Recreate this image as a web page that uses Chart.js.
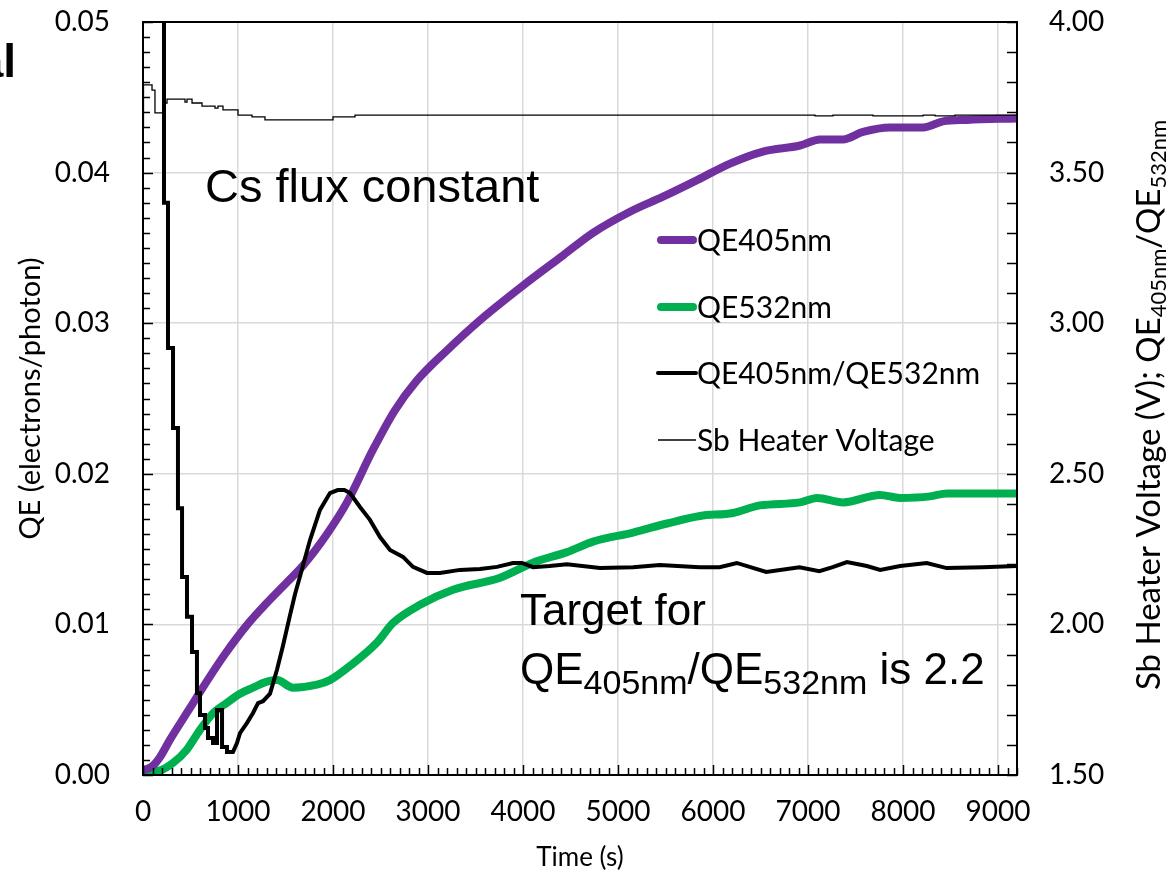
<!DOCTYPE html>
<html>
<head>
<meta charset="utf-8">
<script src="https://cdn.jsdelivr.net/npm/chart.js@4.4.0/dist/chart.umd.min.js"></script>
<style>
html,body{margin:0;padding:0;background:#ffffff;}
#wrap{width:1171px;height:875px;position:relative;}
</style>
</head>
<body>
<div id="wrap"><canvas id="c" width="1171" height="875"></canvas></div>
<script>
// ---------- data ----------
const qe405Time = [0, 100, 180, 280, 500, 680, 860, 1100, 1300, 1516, 1684, 1937, 2147, 2421, 2650, 2884, 3200, 3547, 4000, 4421, 4737, 5126, 5474, 5832, 6179, 6526, 6916, 7126, 7368, 7579, 7863, 8211, 8421, 8674, 9200];
const qe405Values = [0.0003, 0.0006, 0.0012, 0.0023, 0.0045, 0.0063, 0.0080, 0.0100, 0.0114, 0.0128, 0.0139, 0.0160, 0.0181, 0.0216, 0.0242, 0.0262, 0.0282, 0.0302, 0.0325, 0.0345, 0.0360, 0.0374, 0.0384, 0.0395, 0.0406, 0.0414, 0.0418, 0.0422, 0.0422, 0.0427, 0.0430, 0.0430, 0.0434, 0.0435, 0.0436];

const qe532Time = [0, 179, 316, 463, 600, 737, 884, 1021, 1158, 1305, 1410, 1579, 1832, 1968, 2210, 2463, 2632, 2916, 3263, 3758, 4105, 4463, 4737, 5158, 5516, 5863, 6211, 6495, 6916, 7095, 7368, 7758, 7968, 8284, 8463, 8811, 9200];
const qe532Values = [0.0002, 0.0003, 0.0008, 0.0017, 0.0030, 0.0041, 0.0048, 0.0054, 0.0058, 0.0062, 0.0063, 0.0058, 0.0060, 0.0063, 0.0074, 0.0088, 0.0101, 0.0113, 0.0123, 0.0131, 0.0141, 0.0148, 0.0155, 0.0161, 0.0167, 0.0172, 0.0174, 0.0179, 0.0181, 0.0184, 0.0181, 0.0186, 0.0184, 0.0185, 0.0187, 0.0187, 0.0187];

const ratioTime = [221, 221, 263, 263, 316, 316, 368, 368, 411, 411, 463, 463, 516, 516, 568, 568, 600, 600, 653, 653, 684, 684, 737, 737, 779, 779, 832, 832, 884, 884, 947, 989, 1021, 1095, 1158, 1211, 1263, 1337, 1411, 1474, 1547, 1600, 1653, 1758, 1863, 1968, 2050, 2120, 2179, 2284, 2389, 2495, 2600, 2737, 2842, 2989, 3126, 3337, 3547, 3726, 3895, 3990, 4105, 4280, 4463, 4810, 5158, 5440, 5860, 6070, 6250, 6560, 6910, 7120, 7260, 7410, 7620, 7760, 7970, 8250, 8460, 8840, 9200];
const ratioValues = [4.6, 3.40, 3.40, 2.918, 2.918, 2.652, 2.652, 2.386, 2.386, 2.157, 2.157, 2.025, 2.025, 1.908, 1.908, 1.772, 1.772, 1.699, 1.699, 1.656, 1.656, 1.623, 1.623, 1.606, 1.606, 1.716, 1.716, 1.593, 1.593, 1.576, 1.576, 1.606, 1.639, 1.673, 1.706, 1.739, 1.745, 1.77, 1.85, 1.93, 2.03, 2.10, 2.16, 2.28, 2.38, 2.436, 2.446, 2.446, 2.436, 2.39, 2.347, 2.29, 2.247, 2.224, 2.191, 2.171, 2.171, 2.181, 2.184, 2.191, 2.204, 2.204, 2.19, 2.194, 2.20, 2.187, 2.19, 2.197, 2.19, 2.19, 2.204, 2.174, 2.19, 2.177, 2.19, 2.207, 2.194, 2.181, 2.194, 2.204, 2.187, 2.19, 2.194];

const heaterTime = [0, 5, 95, 126, 210, 253, 442, 463, 516, 621, 758, 789, 842, 1000, 1147, 1284, 2000, 2232, 7074, 7263, 7684, 8211, 8337, 8547, 9200];
const heaterValues = [3.651, 3.791, 3.774, 3.698, 3.731, 3.744, 3.734, 3.744, 3.731, 3.721, 3.714, 3.721, 3.708, 3.691, 3.685, 3.675, 3.685, 3.691, 3.688, 3.691, 3.688, 3.691, 3.688, 3.691, 3.691];

const seriesLabels = ['QE405nm', 'QE532nm', 'QE405nm/QE532nm', 'Sb Heater Voltage'];
const xTickValues = [0, 1000, 2000, 3000, 4000, 5000, 6000, 7000, 8000, 9000];
const leftTickValues = [0, 0.01, 0.02, 0.03, 0.04, 0.05];
const rightTickValues = [1.5, 2.0, 2.5, 3.0, 3.5, 4.0];

// ---------- helpers ----------
const pairs = (xs, ys) => xs.map((x, i) => ({x: x, y: ys[i]}));
const TICK_FONT = {family: 'Lato', size: 28};
const TITLE_FONT = {family: 'Lato', size: 26};
const setTicks = vals => (s => { s.ticks = vals.map(v => ({value: v})); });
const noPad = s => { s.paddingTop = 0; s.paddingBottom = 0; s.paddingLeft = 0; s.paddingRight = 0; };

const framePlugin = {
  id: 'frame',
  afterDatasetsDraw(chart) {
    const {ctx, chartArea: a, scales} = chart;
    ctx.save();
    ctx.strokeStyle = '#000';
    ctx.lineWidth = 1.5;
    ctx.beginPath();
    for (let i = 0; i <= 50; i++) {
      const y = Math.round(scales.y.getPixelForValue(i * 0.001)) + 0.5;
      const len = (i % 10 === 0) ? 10 : 7;
      ctx.moveTo(a.left, y); ctx.lineTo(a.left + len, y);
    }
    for (let i = 0; i <= 25; i++) {
      const y = Math.round(scales.y2.getPixelForValue(1.5 + i * 0.1)) + 0.5;
      ctx.moveTo(a.right, y); ctx.lineTo(a.right - 10, y);
    }
    for (let i = 0; i <= 92; i++) {
      const x = Math.round(scales.x.getPixelForValue(i * 100)) + 0.5;
      const len = (i % 10 === 0) ? 10 : 7;
      ctx.moveTo(x, a.bottom); ctx.lineTo(x, a.bottom - len);
    }
    ctx.stroke();
    ctx.lineWidth = 2;
    ctx.strokeRect(a.left, a.top, a.right - a.left, a.bottom - a.top);
    ctx.restore();
  }
};

function richWidth(ctx, parts, mainFont, subFont) {
  let w = 0;
  for (const p of parts) { ctx.font = p.sub ? subFont : mainFont; w += ctx.measureText(p.t).width; }
  return w;
}
function drawRich(ctx, parts, x, y, mainFont, subFont, subDrop) {
  let cx = x;
  for (const p of parts) {
    ctx.font = p.sub ? subFont : mainFont;
    ctx.fillText(p.t, cx, y + (p.sub ? subDrop : 0));
    cx += ctx.measureText(p.t).width;
  }
}

const textPlugin = {
  id: 'texts',
  afterDraw(chart) {
    const {ctx} = chart;
    ctx.save();
    ctx.fillStyle = '#000';
    ctx.font = 'bold 46px "Liberation Sans", Arial, sans-serif';
    ctx.textAlign = 'right';
    ctx.textBaseline = 'alphabetic';
    ctx.fillText('al', 16, 77);

    ctx.textAlign = 'left';
    ctx.font = '47px "Liberation Sans", Arial, sans-serif';
    ctx.fillText('Cs flux constant', 205, 202);
    ctx.font = '44px "Liberation Sans", Arial, sans-serif';
    ctx.fillText('Target for', 520, 625);
    drawRich(ctx, [
      {t: 'QE'}, {t: '405nm', sub: true}, {t: '/QE'}, {t: '532nm', sub: true}, {t: ' is 2.2'}
    ], 520, 684, '44px "Liberation Sans", Arial, sans-serif', '34px "Liberation Sans", Arial, sans-serif', 10);

    const mainF = '33px Lato';
    const subF = '22px Lato';
    const parts = [{t: 'Sb Heater Voltage (V); QE'}, {t: '405nm', sub: true}, {t: '/QE'}, {t: '532nm', sub: true}];
    const w = richWidth(ctx, parts, mainF, subF);
    ctx.translate(1160, 405);
    ctx.rotate(-Math.PI / 2);
    drawRich(ctx, parts, -w / 2, 0, mainF, subF, 6);
    ctx.restore();

    ctx.save();
    const legendY = [240, 307, 373, 440];
    chart.data.datasets.forEach((ds, i) => {
      const y = legendY[i];
      ctx.strokeStyle = ds.borderColor;
      ctx.lineWidth = ds.borderWidth;
      ctx.lineCap = ds.borderWidth > 3 ? 'round' : 'butt';
      ctx.beginPath();
      const x0 = ds.borderWidth > 5 ? 661 : 658;
      const x1 = ds.borderWidth > 5 ? 693 : 696;
      ctx.moveTo(x0, y); ctx.lineTo(x1, y);
      ctx.stroke();
      ctx.fillStyle = '#000';
      ctx.font = '30px Lato';
      ctx.textAlign = 'left';
      ctx.textBaseline = 'middle';
      ctx.fillText(ds.label, 697, y + 1);
    });
    ctx.restore();
  }
};

new Chart(document.getElementById('c'), {
  type: 'line',
  data: {
    datasets: [
      {label: seriesLabels[0], data: pairs(qe405Time, qe405Values), yAxisID: 'y', borderColor: '#7030A0', borderWidth: 8, pointRadius: 0, cubicInterpolationMode: 'monotone', borderCapStyle: 'round', borderJoinStyle: 'round', clip: 0, order: 2},
      {label: seriesLabels[1], data: pairs(qe532Time, qe532Values), yAxisID: 'y', borderColor: '#00B050', borderWidth: 8, pointRadius: 0, cubicInterpolationMode: 'monotone', borderCapStyle: 'round', borderJoinStyle: 'round', clip: 0, order: 3},
      {label: seriesLabels[2], data: pairs(ratioTime, ratioValues), yAxisID: 'y2', borderColor: '#000000', borderWidth: 4, pointRadius: 0, tension: 0, borderJoinStyle: 'miter', clip: 0, order: 0},
      {label: seriesLabels[3], data: pairs(heaterTime, heaterValues), yAxisID: 'y2', borderColor: '#000000', borderWidth: 1.3, pointRadius: 0, stepped: true, clip: 0, order: 1}
    ]
  },
  options: {
    responsive: false,
    animation: false,
    devicePixelRatio: 1,
    layout: {padding: {top: 22, left: 0, right: 0, bottom: 0}},
    plugins: {legend: {display: false}, tooltip: {enabled: false}},
    scales: {
      x: {
        type: 'linear', min: 0, max: 9200,
        afterBuildTicks: setTicks(xTickValues),
        ticks: {font: TICK_FONT, color: '#000', padding: 20, maxRotation: 0, autoSkip: false, callback: v => String(v)},
        grid: {color: '#d9d9d9', lineWidth: 1.5, drawTicks: false},
        border: {display: false},
        title: {display: true, text: 'Time (s)', font: TITLE_FONT, color: '#000', padding: {top: 0, bottom: 2}},
        afterFit(s) { s.height = 100; noPad(s); }
      },
      y: {
        position: 'left', min: 0, max: 0.05,
        afterBuildTicks: setTicks(leftTickValues),
        ticks: {font: TICK_FONT, color: '#000', padding: 33, callback: v => v.toFixed(2)},
        grid: {color: '#d9d9d9', lineWidth: 1.5, drawTicks: false},
        border: {display: false},
        title: {display: true, text: 'QE (electrons/photon)', font: {family: 'Lato', size: 29}, color: '#000', padding: {top: 13, bottom: 0}},
        afterFit(s) { s.width = 143; noPad(s); }
      },
      y2: {
        position: 'right', min: 1.5, max: 4.0,
        afterBuildTicks: setTicks(rightTickValues),
        ticks: {font: TICK_FONT, color: '#000', padding: 32, callback: v => v.toFixed(2)},
        grid: {drawOnChartArea: false, drawTicks: false},
        border: {display: false},
        afterFit(s) { s.width = 154; noPad(s); }
      }
    }
  },
  plugins: [framePlugin, textPlugin]
});
</script>
</body>
</html>
